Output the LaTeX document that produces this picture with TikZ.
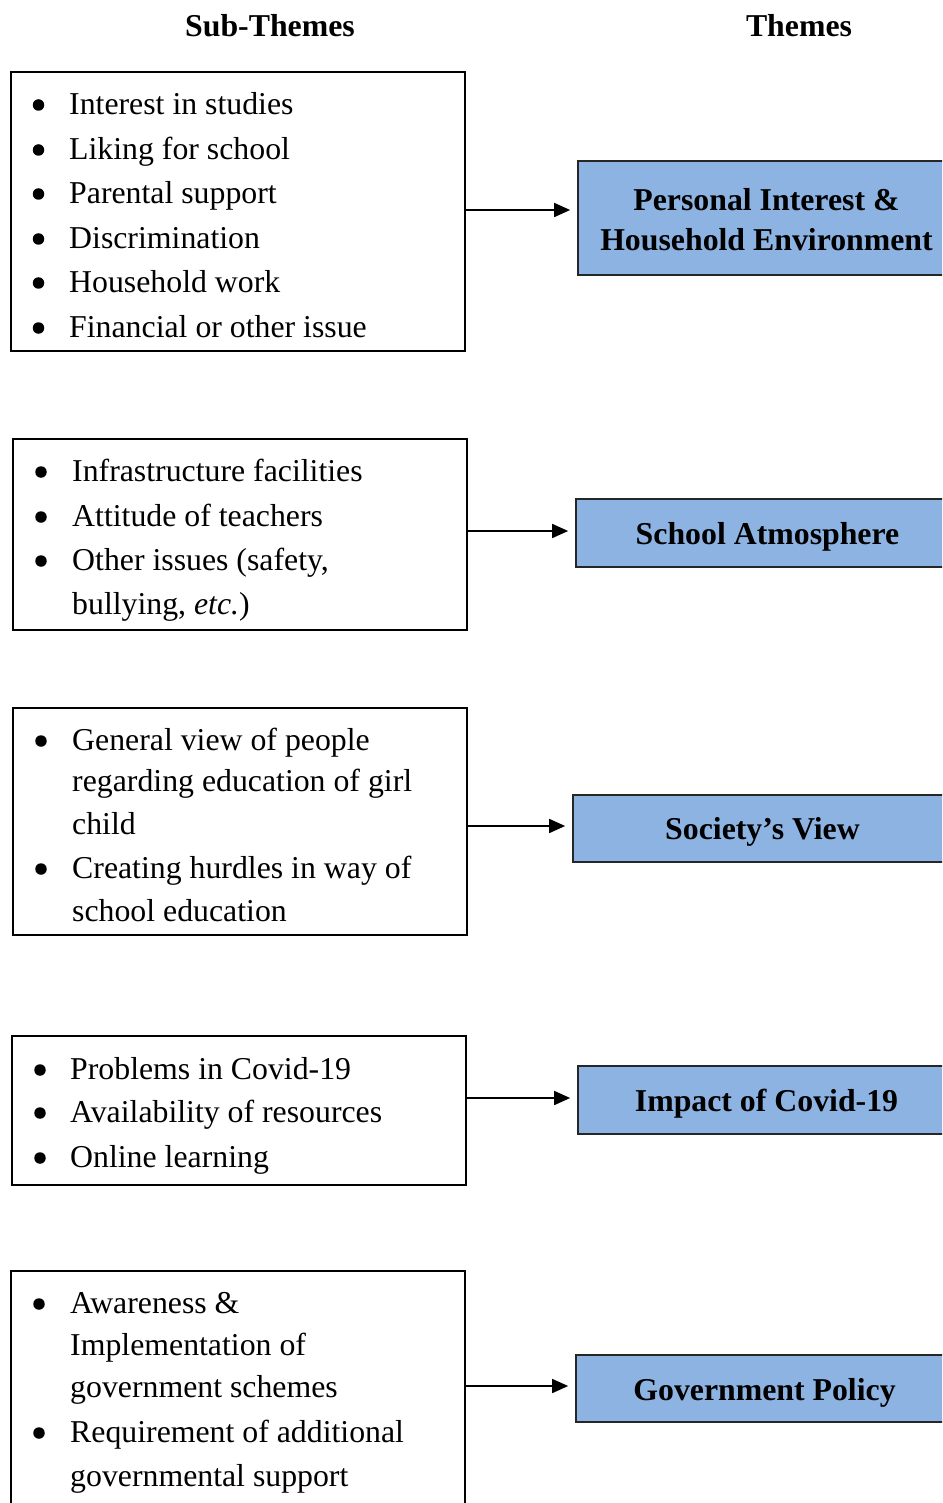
\documentclass[tikz,border=0pt]{standalone}
\usepackage{fontspec}
\setmainfont{Liberation Serif}
\usetikzlibrary{arrows.meta}
\definecolor{themeblue}{RGB}{141,179,226}
% lower the ink of a label without changing its declared size
\newcommand{\lowerink}[2]{\raisebox{-#1}[\height][\depth]{#2}}
\begin{document}
\begin{tikzpicture}[x=1pt,y=-1pt,
  subbox/.style={draw=black, line width=1.7pt, inner sep=0pt},
  themebox/.style={draw=black!85, line width=1.7pt, fill=themeblue, inner sep=0pt,
    align=center, font=\fontsize{31.8}{40}\selectfont\bfseries},
  heading/.style={anchor=base, inner sep=0pt, font=\fontsize{31.8}{38}\selectfont\bfseries},
  item/.style={anchor=base west, inner sep=0pt, font=\fontsize{31.8}{38}\selectfont},
  dot/.style={circle, fill=black, inner sep=0pt, minimum size=11.5pt},
  link/.style={line width=1.7pt, -{Triangle[length=16pt,width=14pt]}, shorten >=7pt}
]
\useasboundingbox (0,0) rectangle (942,1503);
\clip (0,0) rectangle (942,1503);

% column headings
\node[heading] (hsub) at (270,37) {Sub-Themes};
\node[heading] (hthm) at (799,37) {Themes};

% sub-theme boxes
\node[subbox, minimum width=454pt, minimum height=279pt] (s1) at (238,211.5) {};
\node[subbox, minimum width=454pt, minimum height=191pt] (s2) at (240,534.5) {};
\node[subbox, minimum width=454pt, minimum height=227pt] (s3) at (240,821.5) {};
\node[subbox, minimum width=454pt, minimum height=149pt] (s4) at (239,1110.5) {};
\node[subbox, minimum width=454pt, minimum height=250pt] (s5) at (238,1396) {};

% theme boxes
\node[themebox, minimum width=377pt, minimum height=114pt] (t1) at (766.5,218)
  {\lowerink{5pt}{\begin{tabular}{@{}c@{}}Personal Interest \&\\[0pt]Household Environment\end{tabular}}};
\node[themebox, minimum width=383pt, minimum height=68pt] (t2) at (767.5,533) {\lowerink{4pt}{School Atmosphere}};
\node[themebox, minimum width=379pt, minimum height=67pt] (t3) at (762.5,828.5) {\lowerink{3pt}{Society’s View}};
\node[themebox, minimum width=377pt, minimum height=68pt] (t4) at (766.5,1100) {\lowerink{4pt}{Impact of Covid-19}};
\node[themebox, minimum width=377pt, minimum height=67pt] (t5) at (764.5,1388.5) {\lowerink{4pt}{Government Policy}};

% box 1 items
\foreach \y/\t [count=\i] in {114.5/Interest in studies, 159.5/Liking for school,
    203.5/Parental support, 248.5/Discrimination, 292.5/Household work,
    337.5/Financial or other issue} {
  \node[dot] (d1-\i) at (38.5,\y-9.5) {};
  \node[item] (i1-\i) at (69,\y) {\t};
}

% box 2 items
\node[dot] (d2-1) at (41,472) {};
\node[item] (i2-1) at (72,481.5) {Infrastructure facilities};
\node[dot] (d2-2) at (41,517) {};
\node[item] (i2-2) at (72,526.5) {Attitude of teachers};
\node[dot] (d2-3) at (41,561) {};
\node[item] (i2-3) at (72,570.5) {Other issues (safety,};
\node[item] (i2-4) at (72,614.5) {bullying, \textit{etc.})};

% box 3 items
\node[dot] (d3-1) at (41,741) {};
\node[item] (i3-1) at (72,750.5) {General view of people};
\node[item] (i3-2) at (72,791.5) {regarding education of girl};
\node[item] (i3-3) at (72,834.5) {child};
\node[dot] (d3-2) at (41,869) {};
\node[item] (i3-4) at (72,878.5) {Creating hurdles in way of};
\node[item] (i3-5) at (72,921.5) {school education};

% box 4 items
\node[dot] (d4-1) at (40,1070) {};
\node[item] (i4-1) at (70,1079.5) {Problems in Covid-19};
\node[dot] (d4-2) at (40,1113) {};
\node[item] (i4-2) at (70,1122.5) {Availability of resources};
\node[dot] (d4-3) at (40,1158) {};
\node[item] (i4-3) at (70,1167.5) {Online learning};

% box 5 items
\node[dot] (d5-1) at (39,1304) {};
\node[item] (i5-1) at (70,1313.5) {Awareness \&};
\node[item] (i5-2) at (70,1355.5) {Implementation of};
\node[item] (i5-3) at (70,1397.5) {government schemes};
\node[dot] (d5-2) at (39,1433) {};
\node[item] (i5-4) at (70,1442.5) {Requirement of additional};
\node[item] (i5-5) at (70,1486.5) {governmental support};

% connector heights
\coordinate (a1) at (0,210);
\coordinate (a2) at (0,531);
\coordinate (a3) at (0,826);
\coordinate (a4) at (0,1098);
\coordinate (a5) at (0,1386);

\draw[link] (s1.east |- a1) -- (t1.west |- a1);
\draw[link] (s2.east |- a2) -- (t2.west |- a2);
\draw[link] (s3.east |- a3) -- (t3.west |- a3);
\draw[link] (s4.east |- a4) -- (t4.west |- a4);
\draw[link] (s5.east |- a5) -- (t5.west |- a5);
\end{tikzpicture}
\end{document}
